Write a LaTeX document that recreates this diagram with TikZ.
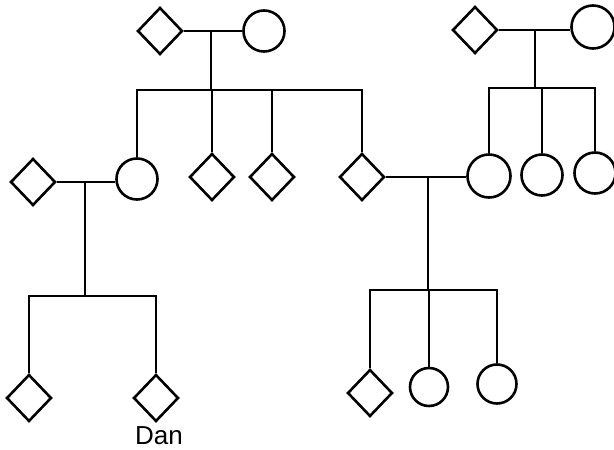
\documentclass[tikz,border=0pt]{standalone}
\usepackage{fontspec}
\newfontfamily\arialf{Liberation Sans}
\usetikzlibrary{shapes.geometric}
\tikzset{
  male/.style={draw, shape=diamond, inner sep=0pt, minimum width=45pt, minimum height=47pt, line width=2.6pt},
  female/.style={draw, shape=circle, inner sep=0pt, minimum size=41pt, line width=2.6pt},
  link/.style={line width=2.4pt},
  lbl/.style={font=\arialf\fontsize{26}{29}\selectfont, inner sep=0pt}
}
\begin{document}
\begin{tikzpicture}[x=1pt,y=-1pt]
\useasboundingbox (0,0) rectangle (614,450);
% generation I
\node[male] (d1) at (160,31) {};
\node[female] (c1) at (264,31) {};
\node[male] (d2) at (475,30) {};
\node[female, minimum size=43pt] (c2) at (593,27) {};
% generation II
\node[male] (d6) at (33,182) {};
\node[female] (c3) at (137,179) {};
\node[male] (d3) at (212,177) {};
\node[male] (d4) at (272,177) {};
\node[male] (d5) at (362,177) {};
\node[female, minimum size=43pt] (c4) at (489,176) {};
\node[female] (c5) at (542,175) {};
\node[female] (c6) at (595,173) {};
% generation III
\node[male] (d7) at (29,398) {};
\node[male] (d8) at (156,398) {};
\node[lbl] (dan) at (159,436) {Dan};
\node[male] (d9) at (370,393) {};
\node[female, minimum size=38pt] (c7) at (429,387) {};
\node[female, minimum size=39pt] (c8) at (497,384) {};
% mating lines and sibships
\coordinate (m1) at (211,31);
\coordinate (s1) at (211,90);
\draw[link] (d1.east) -- (c1.west);
\draw[link] (m1) -- (s1);
\draw[link] (c3.north) -- (c3.north |- s1) -- (d5.north |- s1) -- (d5.north);
\draw[link] (d3.north) -- (d3.north |- s1);
\draw[link] (d4.north) -- (d4.north |- s1);

\coordinate (m2) at (535,30);
\coordinate (s2) at (535,88);
\draw[link] (d2.east) -- (d2.east -| c2.west);
\draw[link] (m2) -- (s2);
\draw[link] (c4.north) -- (c4.north |- s2) -- (c6.north |- s2) -- (c6.north);
\draw[link] (c5.north) -- (c5.north |- s2);

\coordinate (m3) at (85,182);
\coordinate (s3) at (85,296);
\draw[link] (d6.east) -- (d6.east -| c3.west);
\draw[link] (m3) -- (s3);
\draw[link] (d7.north) -- (d7.north |- s3) -- (d8.north |- s3) -- (d8.north);

\coordinate (m4) at (428,177);
\coordinate (s4) at (428,290);
\draw[link] (d5.east) -- (d5.east -| c4.west);
\draw[link] (m4) -- (s4);
\draw[link] (d9.north) -- (d9.north |- s4) -- (c8.north |- s4) -- (c8.north);
\draw[link] (c7.north) -- (c7.north |- s4);
\end{tikzpicture}
\end{document}
